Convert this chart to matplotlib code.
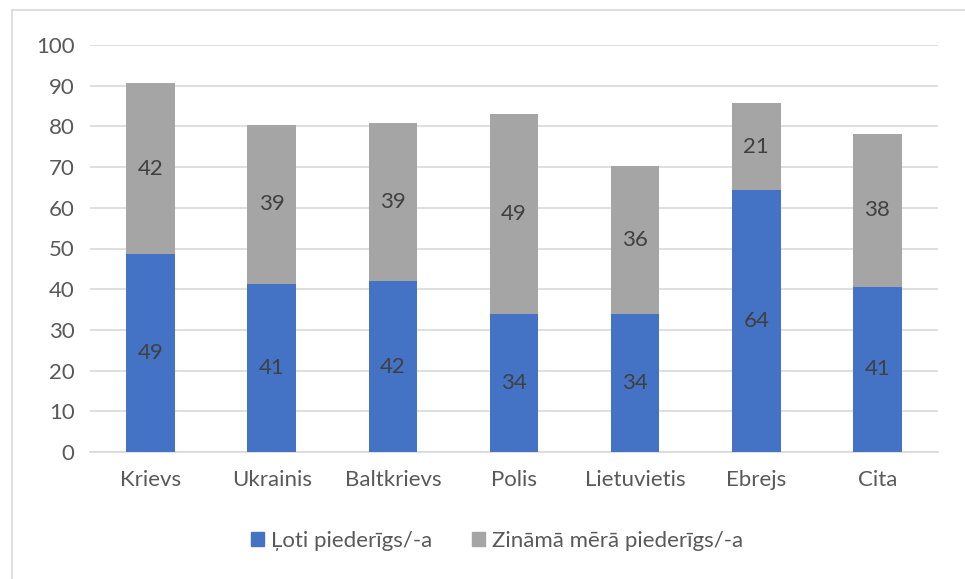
import matplotlib
matplotlib.use("Agg")
import matplotlib.pyplot as plt
from matplotlib.lines import Line2D
from matplotlib.patches import Patch

categories = ["Krievs", "Ukrainis", "Baltkrievs", "Polis", "Lietuvietis", "Ebrejs", "Cita"]
loti = [48.6, 41.4, 42.0, 34.0, 34.0, 64.3, 40.6]
zinama = [42.1, 39.0, 38.8, 49.0, 36.2, 21.4, 37.6]
series_names = ["Ļoti piederīgs/-a", "Zināmā mērā piederīgs/-a"]
yticks = [0, 10, 20, 30, 40, 50, 60, 70, 80, 90, 100]

plt.rcParams['font.family'] = ['Lato', 'DejaVu Sans']

W, H = 965, 579
FS = 16
fig = plt.figure(figsize=(W / 100, H / 100), dpi=100)
ax = fig.add_axes([90 / W, (H - 452) / H, 848 / W, 407 / H])

blue = "#4472C4"
gray = "#A5A5A5"
x = list(range(len(categories)))
ax.bar(x, loti, width=0.4, color=blue, zorder=3)
ax.bar(x, zinama, width=0.4, bottom=loti, color=gray, zorder=3)

for i in x:
    ax.text(i, loti[i] / 2, f"{loti[i]:.0f}", ha="center", va="center",
            fontsize=FS, color="#404040", zorder=4)
    ax.text(i, loti[i] + zinama[i] / 2, f"{zinama[i]:.0f}", ha="center", va="center",
            fontsize=FS, color="#404040", zorder=4)

ax.set_xlim(-0.5, len(categories) - 0.5)
ax.set_ylim(0, 100)
ax.set_yticks(yticks)
ax.set_xticks(x)
ax.set_xticklabels(categories)
ax.yaxis.grid(True, color="#D9D9D9", linewidth=1.2, zorder=0)
for s in ["top", "right", "left"]:
    ax.spines[s].set_visible(False)
ax.spines["bottom"].set_color("#D9D9D9")
ax.spines["bottom"].set_linewidth(1.2)
ax.tick_params(axis="both", length=0, labelsize=FS, colors="#595959")
ax.tick_params(axis="y", pad=11)
ax.tick_params(axis="x", pad=13)

handles = [Patch(color=blue), Patch(color=gray)]
fig.legend(handles, series_names, loc="center", bbox_to_anchor=(0.515, (H - 541) / H),
           ncol=2, frameon=False, fontsize=FS, labelcolor="#595959",
           handlelength=0.6, handleheight=0.6, handletextpad=0.3, columnspacing=1.8)

# chart border lines
fig.add_artist(Line2D([12 / W, 12 / W], [0, 1 - 10 / H], color="#D9D9D9", linewidth=1.2))
fig.add_artist(Line2D([12 / W, 1], [1 - 10 / H, 1 - 10 / H], color="#D9D9D9", linewidth=1.2))

fig.savefig("out.png", dpi=100)
